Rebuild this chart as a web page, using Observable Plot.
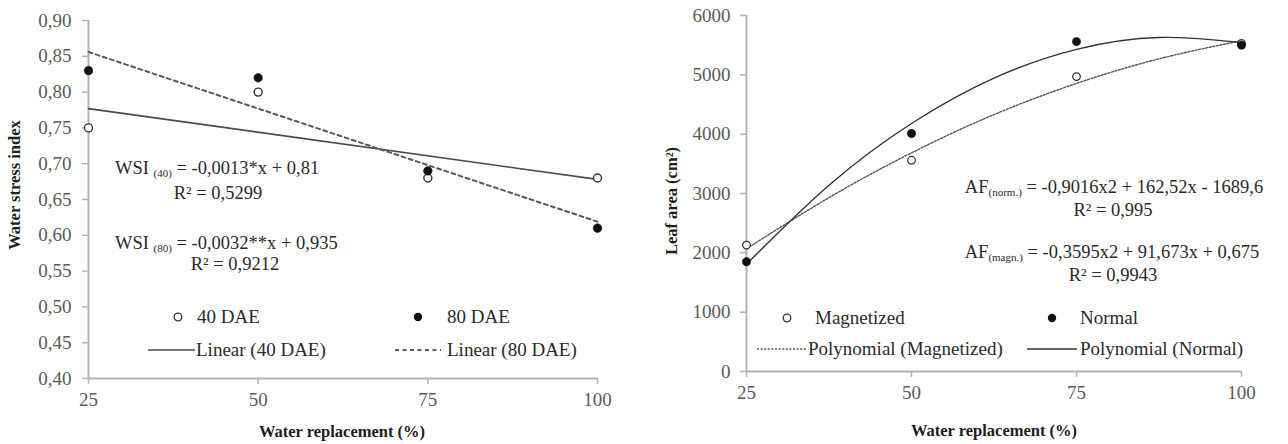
<!DOCTYPE html>
<html>
<head>
<meta charset="utf-8">
<script src="https://cdn.jsdelivr.net/npm/d3@7"></script>
<script src="https://cdn.jsdelivr.net/npm/@observablehq/plot@0.6"></script>
<style>
  html, body { margin: 0; padding: 0; background: #fff; }
  #wrap { position: relative; width: 1288px; height: 444px; overflow: hidden; font-family: "Liberation Serif", "Times New Roman", serif; color: #2a2a2a; }
  .panel { position: absolute; top: 0; }
  .ov { position: absolute; white-space: nowrap; font-size: 18.5px; line-height: 20px; }
  .ov sub { font-size: 11px; vertical-align: -3px; line-height: 0; }
  .ctr { transform: translateX(-50%); }
  .title { position: absolute; white-space: nowrap; font-weight: bold; font-size: 16.5px; line-height: 18px; color: #1e1e1e; }
  .leg { position: absolute; white-space: nowrap; font-size: 19px; line-height: 20px; color: #2a2a2a; }
  svg.sw { position: absolute; overflow: visible; }
</style>
</head>
<body>
<div id="wrap"></div>
<script>
// ---------- Data ----------
const waterReplacement = [25, 50, 75, 100];

// Left panel: Water stress index
const wsi40 = [0.75, 0.80, 0.68, 0.68];
const wsi80 = [0.83, 0.82, 0.69, 0.61];
const wsiTicks = [0.40, 0.45, 0.50, 0.55, 0.60, 0.65, 0.70, 0.75, 0.80, 0.85, 0.90];

// Right panel: Leaf area
const leafMagnetized = [2130, 3560, 4970, 5530];
const leafNormal = [1850, 4010, 5560, 5500];
const leafTicks = [0, 1000, 2000, 3000, 4000, 5000, 6000];

// Polynomial trend curves
const trendX = [25, 37.5, 50, 62.5, 75, 87.5, 100];
const trendNormal = [1810, 3140, 4180, 4945, 5430, 5630, 5545];
const trendMagnetized = [2070, 2930, 3685, 4330, 4855, 5270, 5575];

const xTicks = [25, 50, 75, 100];

// ---------- Tables ----------
const t40 = waterReplacement.map((x, i) => ({x, y: wsi40[i]}));
const t80 = waterReplacement.map((x, i) => ({x, y: wsi80[i]}));
const tMag = waterReplacement.map((x, i) => ({x, y: leafMagnetized[i]}));
const tNor = waterReplacement.map((x, i) => ({x, y: leafNormal[i]}));
const trNor = trendX.map((x, i) => ({x, y: trendNormal[i]}));
const trMag = trendX.map((x, i) => ({x, y: trendMagnetized[i]}));

const axisGray = "#b3b3b3";
const tickText = "#5a5a5a";
const commaFmt = d => d3.format(".2f")(d).replace(".", ",");

const styleCommon = {fontFamily: "'Liberation Serif', 'Times New Roman', serif", fontSize: "19px", background: "transparent", overflow: "visible"};

const left = Plot.plot({
  width: 640, height: 444,
  marginLeft: 88, marginRight: 43, marginTop: 20, marginBottom: 66,
  style: styleCommon,
  x: {domain: [25, 100]},
  y: {domain: [0.40, 0.90]},
  marks: [
    Plot.axisY({ticks: wsiTicks, tickFormat: commaFmt, tickSize: 6, tickPadding: 11, stroke: axisGray, strokeWidth: 1.5, fill: tickText, label: null}),
    Plot.axisX({ticks: xTicks, tickFormat: d => String(d), tickSize: 6, tickPadding: 8, stroke: axisGray, strokeWidth: 1.5, fill: tickText, label: null}),
    Plot.ruleX([25], {stroke: axisGray, strokeWidth: 2}),
    Plot.ruleY([0.40], {stroke: axisGray, strokeWidth: 2}),
    Plot.linearRegressionY(t40, {x: "x", y: "y", ci: 0, stroke: "#4a4a4a", strokeWidth: 1.7}),
    Plot.linearRegressionY(t80, {x: "x", y: "y", ci: 0, stroke: "#5a5a5a", strokeWidth: 2, strokeDasharray: "4,3.5"}),
    Plot.dot(t40, {x: "x", y: "y", r: 4, fill: "white", stroke: "#333", strokeWidth: 1.4}),
    Plot.dot(t80, {x: "x", y: "y", r: 4.3, fill: "#111", stroke: "#111", strokeWidth: 0.5})
  ]
});

const right = Plot.plot({
  width: 648, height: 444,
  marginLeft: 106, marginRight: 47, marginTop: 15, marginBottom: 73,
  style: styleCommon,
  x: {domain: [25, 100]},
  y: {domain: [0, 6000]},
  marks: [
    Plot.axisY({ticks: leafTicks, tickFormat: d => String(d), tickSize: 6, tickPadding: 10, stroke: axisGray, strokeWidth: 1.5, fill: tickText, label: null}),
    Plot.axisX({ticks: xTicks, tickFormat: d => String(d), tickSize: 6, tickPadding: 8, stroke: axisGray, strokeWidth: 1.5, fill: tickText, label: null}),
    Plot.ruleX([25], {stroke: axisGray, strokeWidth: 2}),
    Plot.ruleY([0], {stroke: axisGray, strokeWidth: 2}),
    Plot.line(trMag, {x: "x", y: "y", curve: "natural", stroke: "#555", strokeWidth: 1.4, strokeDasharray: "2,1.6"}),
    Plot.line(trNor, {x: "x", y: "y", curve: "natural", stroke: "#333", strokeWidth: 1.4}),
    Plot.dot(tMag, {x: "x", y: "y", r: 3.8, fill: "white", stroke: "#333", strokeWidth: 1.3}),
    Plot.dot(tNor, {x: "x", y: "y", r: 4.2, fill: "#111", stroke: "#111", strokeWidth: 0.5})
  ]
});

const wrap = document.getElementById("wrap");
left.classList.add("panel"); left.style.left = "0px";
right.classList.add("panel"); right.style.left = "640px";
wrap.appendChild(left);
wrap.appendChild(right);

// ---------- Overlay texts ----------
function add(html, cls, x, y, extra) {
  const d = document.createElement("div");
  d.className = cls;
  d.innerHTML = html;
  d.style.left = x + "px";
  d.style.top = y + "px";
  if (extra) Object.assign(d.style, extra);
  wrap.appendChild(d);
  return d;
}

// Axis titles
add("Water stress index", "title", 15, 185, {transform: "translate(-50%,-50%) rotate(-90deg)"});
add("Water replacement (%)", "title", 342, 432, {transform: "translate(-50%,-50%)"});
add("Leaf area (cm²)", "title", 672, 201, {transform: "translate(-50%,-50%) rotate(-90deg)"});
add("Water replacement (%)", "title", 994, 431, {transform: "translate(-50%,-50%)"});

// Equations left
add("WSI <sub>(40)</sub> = -0,0013*x + 0,81", "ov", 115, 158);
add("R² = 0,5299", "ov ctr", 218, 183);
add("WSI <sub>(80)</sub> = -0,0032**x + 0,935", "ov", 115, 233);
add("R² = 0,9212", "ov ctr", 235, 254);

// Equations right
add("AF<sub>(norm.)</sub> = -0,9016x2 + 162,52x - 1689,6", "ov ctr", 1114, 177);
add("R² = 0,995", "ov ctr", 1113, 200);
add("AF<sub>(magn.)</sub> = -0,3595x2 + 91,673x + 0,675", "ov ctr", 1112, 242);
add("R² = 0,9943", "ov ctr", 1113, 265);

// Legends
function swatch(x, y, inner) {
  const ns = "http://www.w3.org/2000/svg";
  const s = document.createElementNS(ns, "svg");
  s.setAttribute("class", "sw");
  s.setAttribute("width", "1"); s.setAttribute("height", "1");
  s.style.left = x + "px"; s.style.top = y + "px";
  s.innerHTML = inner;
  wrap.appendChild(s);
}
const openDot = '<circle cx="0" cy="0" r="3.8" fill="white" stroke="#333" stroke-width="1.3"/>';
const fullDot = '<circle cx="0" cy="0" r="4.2" fill="#111"/>';

// left legend
swatch(178, 317, openDot);
add("40 DAE", "leg", 197, 307);
swatch(418, 317, fullDot);
add("80 DAE", "leg", 447, 307);
swatch(148, 350, '<line x1="0" x2="47" y1="0" y2="0" stroke="#4a4a4a" stroke-width="1.7"/>');
add("Linear (40 DAE)", "leg", 196, 340);
swatch(395, 350, '<line x1="0" x2="46" y1="0" y2="0" stroke="#5a5a5a" stroke-width="2" stroke-dasharray="4,3.5"/>');
add("Linear (80 DAE)", "leg", 447, 340);

// right legend
swatch(787, 318, openDot);
add("Magnetized", "leg", 815, 308);
swatch(1052, 318, fullDot);
add("Normal", "leg", 1080, 308);
swatch(757, 349, '<line x1="0" x2="50" y1="0" y2="0" stroke="#555" stroke-width="1.4" stroke-dasharray="2,1.6"/>');
add("Polynomial (Magnetized)", "leg", 808, 339);
swatch(1027, 349, '<line x1="0" x2="50" y1="0" y2="0" stroke="#333" stroke-width="1.4"/>');
add("Polynomial (Normal)", "leg", 1080, 339);
</script>
</body>
</html>
